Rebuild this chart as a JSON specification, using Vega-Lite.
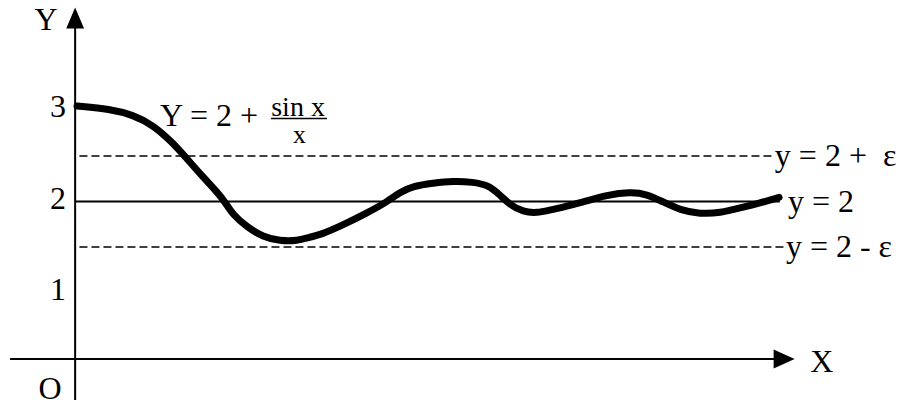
{
  "$schema": "https://vega.github.io/schema/vega-lite/v6.json",
  "width": 906,
  "height": 400,
  "autosize": {"type": "none"},
  "padding": 0,
  "background": "white",
  "config": {"view": {"stroke": null}},
  "datasets": {
    "dashed": [
      {"x": 0.12, "x2": 19.38, "y": 2.5},
      {"x": 0.12, "x2": 19.8, "y": 1.5}
    ],
    "mid": [{"x": 0, "x2": 19.6, "y": 2}],
    "xaxis": [{"x": -1.81, "x2": 19.47, "y": 0.269}],
    "yaxis": [{"x": 0, "y": 3.907, "y2": -0.181}],
    "arrows": [
      {"x": 19.72, "y": 0.269, "dir": "right"},
      {"x": 0, "y": 4.016, "dir": "up"}
    ],
    "curve": [
      {"x": 0.053, "y": 3.049}, {"x": 0.971, "y": 3.016}, {"x": 1.61, "y": 2.951},
      {"x": 2.167, "y": 2.841}, {"x": 2.723, "y": 2.643}, {"x": 3.14, "y": 2.456},
      {"x": 3.557, "y": 2.269}, {"x": 3.947, "y": 2.104}, {"x": 4.169, "y": 1.995},
      {"x": 4.392, "y": 1.852}, {"x": 4.781, "y": 1.72}, {"x": 5.226, "y": 1.61},
      {"x": 5.699, "y": 1.566}, {"x": 6.172, "y": 1.566}, {"x": 6.534, "y": 1.61},
      {"x": 6.812, "y": 1.632}, {"x": 7.452, "y": 1.742}, {"x": 8.119, "y": 1.874},
      {"x": 8.676, "y": 1.995}, {"x": 9.037, "y": 2.104}, {"x": 9.399, "y": 2.17},
      {"x": 9.955, "y": 2.203}, {"x": 10.511, "y": 2.225}, {"x": 11.068, "y": 2.214},
      {"x": 11.485, "y": 2.181}, {"x": 11.819, "y": 2.071}, {"x": 12.097, "y": 1.962},
      {"x": 12.459, "y": 1.885}, {"x": 12.848, "y": 1.874}, {"x": 13.21, "y": 1.907},
      {"x": 13.488, "y": 1.929}, {"x": 14.128, "y": 1.995}, {"x": 14.796, "y": 2.071},
      {"x": 15.435, "y": 2.104}, {"x": 15.908, "y": 2.082}, {"x": 16.353, "y": 1.995},
      {"x": 16.826, "y": 1.907}, {"x": 17.382, "y": 1.863}, {"x": 17.939, "y": 1.874},
      {"x": 18.495, "y": 1.929}, {"x": 19.051, "y": 1.984}, {"x": 19.58, "y": 2.045}
    ],
    "fracbar": [{"x": 5.449, "x2": 7.006, "y": 2.912}],
    "formula": [{"x": 2.361, "y": 2.83, "text": "Y = 2 +"}],
    "numerator": [{"x": 6.2, "y": 2.943, "text": "sin x"}],
    "denominator": [{"x": 6.241, "y": 2.643, "text": "x"}],
    "ticks": [
      {"x": -0.476, "y": 3, "text": "3"},
      {"x": -0.476, "y": 2, "text": "2"},
      {"x": -0.476, "y": 1, "text": "1"}
    ],
    "right": [
      {"x": 19.462, "y": 2.5, "text": "y = 2 +\u00a0 ε"},
      {"x": 19.83, "y": 2, "text": "y = 2"},
      {"x": 19.77, "y": 1.5, "text": "y = 2 - ε"}
    ],
    "letters": [
      {"x": -0.809, "y": 3.885, "text": "Y"},
      {"x": 20.77, "y": 0.126, "text": "X"},
      {"x": -0.698, "y": -0.17, "text": "O"}
    ]
  },
  "encoding": {
    "x": {"field": "x", "type": "quantitative", "scale": {"domain": [-2.09, 23.11], "nice": false, "zero": false}, "axis": null},
    "y": {"field": "y", "type": "quantitative", "scale": {"domain": [-0.181, 4.214], "nice": false, "zero": false}, "axis": null}
  },
  "layer": [
    {
      "data": {"name": "dashed"},
      "mark": {"type": "rule", "color": "black", "strokeWidth": 1.5, "strokeDash": [8, 4]},
      "encoding": {"x2": {"field": "x2"}}
    },
    {
      "data": {"name": "mid"},
      "mark": {"type": "rule", "color": "black", "strokeWidth": 2},
      "encoding": {"x2": {"field": "x2"}}
    },
    {
      "data": {"name": "xaxis"},
      "mark": {"type": "rule", "color": "black", "strokeWidth": 2},
      "encoding": {"x2": {"field": "x2"}}
    },
    {
      "data": {"name": "yaxis"},
      "mark": {"type": "rule", "color": "black", "strokeWidth": 2},
      "encoding": {"y2": {"field": "y2"}}
    },
    {
      "data": {"name": "arrows"},
      "mark": {"type": "point", "filled": true, "fill": "black", "opacity": 1, "size": 441, "strokeWidth": 0},
      "encoding": {
        "shape": {"field": "dir", "type": "nominal", "scale": {"domain": ["right", "up"], "range": ["M-1,-0.9L1,0L-1,0.9Z", "M-0.85,1L0,-1L0.85,1Z"]}, "legend": null}
      }
    },
    {
      "data": {"name": "curve"},
      "mark": {"type": "line", "color": "black", "strokeWidth": 7, "interpolate": "basis", "strokeCap": "round", "strokeJoin": "round"},
      "encoding": {}
    },
    {
      "data": {"name": "fracbar"},
      "mark": {"type": "rule", "color": "black", "strokeWidth": 1.5},
      "encoding": {"x2": {"field": "x2"}}
    },
    {
      "data": {"name": "formula"},
      "mark": {"type": "text", "font": "Liberation Serif", "fontSize": 32, "fill": "black", "align": "left", "baseline": "alphabetic"},
      "encoding": {"text": {"field": "text"}}
    },
    {
      "data": {"name": "numerator"},
      "mark": {"type": "text", "font": "Liberation Serif", "fontSize": 28, "fill": "black", "align": "center", "baseline": "alphabetic"},
      "encoding": {"text": {"field": "text"}}
    },
    {
      "data": {"name": "denominator"},
      "mark": {"type": "text", "font": "Liberation Serif", "fontSize": 26, "fill": "black", "align": "center", "baseline": "alphabetic"},
      "encoding": {"text": {"field": "text"}}
    },
    {
      "data": {"name": "ticks"},
      "mark": {"type": "text", "font": "Liberation Serif", "fontSize": 32, "fill": "black", "align": "center", "baseline": "middle", "dy": -3},
      "encoding": {"text": {"field": "text"}}
    },
    {
      "data": {"name": "right"},
      "mark": {"type": "text", "font": "Liberation Serif", "fontSize": 32, "fill": "black", "align": "left", "baseline": "middle"},
      "encoding": {"text": {"field": "text"}}
    },
    {
      "data": {"name": "letters"},
      "mark": {"type": "text", "font": "Liberation Serif", "fontSize": 32, "fill": "black", "align": "center", "baseline": "alphabetic"},
      "encoding": {"text": {"field": "text"}}
    }
  ]
}
